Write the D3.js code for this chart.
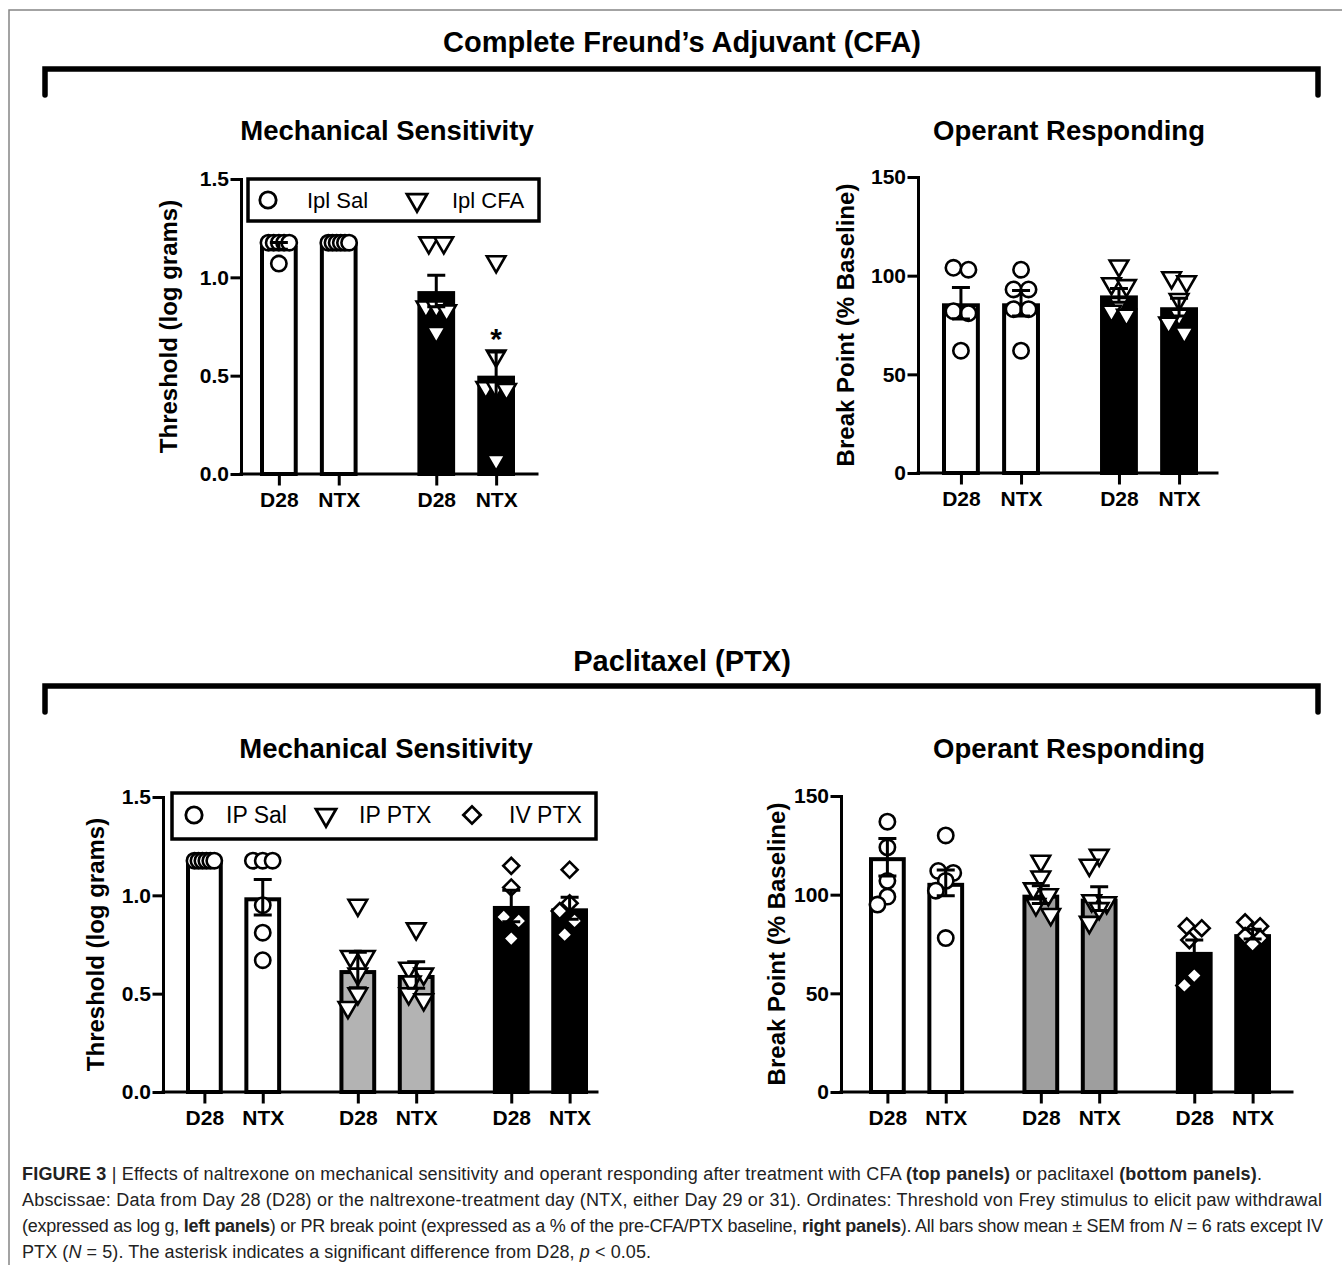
<!DOCTYPE html>
<html>
<head>
<meta charset="utf-8">
<script src="https://cdn.jsdelivr.net/npm/d3@7"></script>
<style>
  body { margin: 0; background: #fff; }
  svg { display: block; font-family: "Liberation Sans", Arial, Helvetica, sans-serif; }
</style>
</head>
<body>
<svg id="fig" width="1342" height="1265"></svg>
<script>
// ---------- data ----------
const conditions = ["D28", "NTX"];
const cfaGroups = ["Ipl Sal", "Ipl CFA"];
const ptxGroups = ["IP Sal", "IP PTX", "IV PTX"];
const thresholdTicks = [0, 0.5, 1.0, 1.5];
const breakPointTicks = [0, 50, 100, 150];

// values are [group][condition]
const cfaThresholdMean = [[1.16, 1.176], [0.93, 0.50]];
const cfaThresholdSem = [[0.017, 0], [0.08, 0.12]];
const cfaThresholdRats = [
  [[1.176, 1.176, 1.176, 1.176, 1.176, 1.07], [1.176, 1.176, 1.176, 1.176, 1.176, 1.176]],
  [[1.176, 1.176, 0.85, 0.85, 0.83, 0.72], [1.08, 0.60, 0.44, 0.44, 0.43, 0.07]]
];

const cfaBreakMean = [[86, 86], [90, 84]];
const cfaBreakSem = [[8, 6.5], [3.5, 4.5]];
const cfaBreakRats = [
  [[104, 103, 82, 81, 62], [103, 93, 93, 83, 83, 62]],
  [[105, 96, 95, 86, 82, 80], [99, 97, 88, 80, 76, 71]]
];

const ptxThresholdMean = [[1.176, 0.99], [0.62, 0.595], [0.946, 0.934]];
const ptxThresholdSem = [[0, 0.09], [0.09, 0.067], [0.08, 0.056]];
const ptxThresholdRats = [
  [[1.176, 1.176, 1.176, 1.176, 1.176, 1.176], [1.176, 1.176, 1.176, 0.95, 0.81, 0.67]],
  [[0.95, 0.69, 0.69, 0.60, 0.50, 0.43], [0.83, 0.63, 0.60, 0.56, 0.50, 0.47]],
  [[1.15, 1.04, 0.89, 0.87, 0.78], [1.13, 0.96, 0.92, 0.87, 0.80]]
];

const ptxBreakMean = [[119, 106], [100, 98], [71, 80]];
const ptxBreakSem = [[9.5, 6.5], [4.5, 6], [6, 2.5]];
const ptxBreakRats = [
  [[137, 124, 107, 99, 95], [130, 112, 111, 107, 102, 78]],
  [[117, 109, 103, 100, 95, 90], [120, 115, 97, 96, 93, 86]],
  [[84, 83, 77, 59, 54], [86, 84, 79, 78, 75]]
];

const captionLines = [
  [["b", "FIGURE 3"], ["", " | Effects of naltrexone on mechanical sensitivity and operant responding after treatment with CFA "], ["b", "(top panels)"], ["", " or paclitaxel "], ["b", "(bottom panels)"], ["", "."]],
  [["", "Abscissae: Data from Day 28 (D28) or the naltrexone-treatment day (NTX, either Day 29 or 31). Ordinates: Threshold von Frey stimulus to elicit paw withdrawal"]],
  [["", "(expressed as log g, "], ["b", "left panels"], ["", ") or PR break point (expressed as a % of the pre-CFA/PTX baseline, "], ["b", "right panels"], ["", "). All bars show mean ± SEM from "], ["i", "N"], ["", " = 6 rats except IV"]],
  [["", "PTX ("], ["i", "N"], ["", " = 5). The asterisk indicates a significant difference from D28, "], ["i", "p"], ["", " < 0.05."]]
];

// ---------- drawing ----------
const svg = d3.select("#fig");

// page border + section brackets
svg.append("path").attr("d", "M9,1265V10H1342")
  .attr("fill", "none").attr("stroke", "#858585").attr("stroke-width", 1.5);

function bracket(yTop, title, titleY) {
  svg.append("path")
    .attr("d", `M45,${yTop + 26}V${yTop}H1318V${yTop + 26}`)
    .attr("fill", "none").attr("stroke", "#000").attr("stroke-width", 5.5)
    .attr("stroke-linecap", "round").attr("stroke-linejoin", "miter");
  svg.append("text").attr("x", 682).attr("y", titleY)
    .attr("text-anchor", "middle").attr("font-size", 29).attr("font-weight", "bold")
    .text(title);
}
bracket(69, "Complete Freund\u2019s Adjuvant (CFA)", 52);
bracket(686, "Paclitaxel (PTX)", 671);

function marker(sel, shape, size) {
  if (shape === "circle") {
    sel.attr("d", d3.symbol(d3.symbolCircle, size)());
  } else if (shape === "triangle") {
    sel.attr("d", d3.symbol(d3.symbolTriangle, size)());
  } else {
    sel.attr("d", d3.symbol(d3.symbolSquare, size * 0.85)());
  }
  return sel;
}
const rotation = { circle: 0, triangle: 180, diamond: 45 };

// spread the rats of one bar sideways (ties fan out, near neighbours dodge)
function swarm(values, y, cx, L, minD) {
  const pts = values.map(v => ({ v, py: y(v) })).sort((a, b) => a.py - b.py);
  const ties = [];
  pts.forEach(pt => {
    const last = ties[ties.length - 1];
    if (last && Math.abs(pt.py - last[0].py) < 6) last.push(pt); else ties.push([pt]);
  });
  const placed = [];
  const s = L / 2;
  const cands = [0, -s, s, -2 * s, 2 * s];
  ties.forEach(grp => {
    if (grp.length > 1) {
      const step = Math.min(minD, 2 * L / (grp.length - 1));
      grp.forEach((pt, i) => { pt.dx = (i - (grp.length - 1) / 2) * step; placed.push(pt); });
    } else {
      const pt = grp[0];
      let best = 0, bestD = -1;
      for (const c of cands) {
        const d = placed.length ? d3.min(placed, q => Math.hypot(q.dx - c, q.py - pt.py)) : Infinity;
        if (d >= minD) { best = c; break; }
        if (d > bestD) { bestD = d; best = c; }
      }
      pt.dx = best;
      placed.push(pt);
    }
  });
  return placed.map(pt => ({ x: cx + pt.dx, y: pt.py }));
}

function drawPanel(p) {
  const g = svg.append("g");
  const y = d3.scaleLinear().domain([0, p.ticks[p.ticks.length - 1]]).range(p.yRange);
  const xGroup = d3.scaleBand().domain(p.groups)
    .range([p.xAxis[0] + p.pad[0], p.xAxis[1] - p.pad[1]]).paddingInner(0.38);
  const xCond = d3.scaleBand().domain(conditions).range([0, xGroup.bandwidth()]).paddingInner(0.37);
  const bw = xCond.bandwidth();

  const rows = p.groups.flatMap((grp, gi) => conditions.map((c, ci) => ({
    grp, gi, cond: c, key: grp + "|" + c,
    mean: p.mean[gi][ci], sem: p.sem[gi][ci], rats: p.rats[gi][ci],
    x0: xGroup(grp) + xCond(c),
    cx: xGroup(grp) + xCond(c) + bw / 2
  })));

  // bars
  const sw = 4;
  g.selectAll("rect.bar").data(rows).join("rect").attr("class", "bar")
    .attr("x", d => d.x0 + sw / 2)
    .attr("y", d => y(d.mean) + sw / 2)
    .attr("width", bw - sw)
    .attr("height", d => y(0) - y(d.mean) - sw / 2)
    .attr("fill", d => p.fills[d.gi])
    .attr("stroke", "#000").attr("stroke-width", sw);

  // individual rats
  const L = (bw - 17) / 2;
  rows.forEach(d => {
    const shape = p.shapes[d.gi];
    g.append("g").selectAll("path").data(swarm(d.rats, y, d.cx, L, 15)).join("path")
      .call(marker, shape, shape === "circle" ? 185 : 150)
      .attr("transform", q => `translate(${q.x},${q.y}) rotate(${rotation[shape]})`)
      .attr("fill", "#fff").attr("stroke", "#000").attr("stroke-width", 2.6);
  });

  // error bars (mean ± SEM)
  g.selectAll("path.err").data(rows.filter(d => d.sem > 0)).join("path").attr("class", "err")
    .attr("d", d => {
      const hi = y(d.mean + d.sem), lo = y(d.mean - d.sem);
      return `M${d.cx},${lo}V${hi}M${d.cx - 9},${hi}H${d.cx + 9}M${d.cx - 9},${lo}H${d.cx + 9}`;
    })
    .attr("fill", "none").attr("stroke", "#000").attr("stroke-width", 3);

  // significance star
  if (p.star) {
    const d = rows.find(r => r.key === p.star);
    g.append("text").attr("x", d.cx).attr("y", y(d.mean + d.sem) - 3)
      .attr("text-anchor", "middle").attr("font-size", 30).attr("font-weight", "bold").text("*");
  }

  // axes
  const yAxis = g.append("g").attr("transform", `translate(${p.xAxis[0]},0)`)
    .call(d3.axisLeft(y).tickValues(p.ticks).tickFormat(p.fmt).tickSize(9).tickPadding(3).tickSizeOuter(0));
  const xPos = d3.scaleOrdinal().domain(rows.map(d => d.key)).range(rows.map(d => d.cx));
  const xAxis = g.append("g").attr("transform", `translate(0,${y(0)})`)
    .call(d3.axisBottom(xPos).tickSize(10).tickPadding(8).tickFormat(k => k.split("|")[1]));
  xAxis.select(".domain").remove();
  g.append("line").attr("x1", p.xAxis[0]).attr("x2", p.xAxis[1]).attr("y1", y(0)).attr("y2", y(0))
    .attr("stroke", "#000").attr("stroke-width", 3).attr("stroke-linecap", "square");
  [yAxis, xAxis].forEach(a => {
    a.selectAll(".domain, .tick line").attr("stroke", "#000").attr("stroke-width", 3).attr("stroke-linecap", "square");
    a.selectAll("text").attr("font-size", 21).attr("font-weight", "bold").attr("fill", "#000")
      .attr("font-family", "'Liberation Sans', Arial, sans-serif");
  });

  // titles
  g.append("text").attr("x", p.titleX).attr("y", p.titleY).attr("text-anchor", "middle")
    .attr("font-size", 27.5).attr("font-weight", "bold").text(p.title);
  const yMid = (p.yRange[0] + p.yRange[1]) / 2;
  g.append("text").attr("transform", `translate(${p.yTitleX},${yMid}) rotate(-90)`)
    .attr("text-anchor", "middle").attr("dy", "0.36em")
    .attr("font-size", 24).attr("font-weight", "bold").text(p.yTitle);

  // legend
  if (p.legend) {
    const lg = p.legend;
    g.append("rect").attr("x", lg.box[0]).attr("y", lg.box[1]).attr("width", lg.box[2]).attr("height", lg.box[3])
      .attr("fill", "#fff").attr("stroke", "#000").attr("stroke-width", 3.5);
    const items = g.selectAll("g.leg").data(p.groups).join("g").attr("class", "leg");
    items.append("path")
      .each(function (d, i) { marker(d3.select(this), p.shapes[i], p.shapes[i] === "circle" ? 210 : 175); })
      .attr("transform", (d, i) => `translate(${lg.mx[i]},${lg.cy}) rotate(${rotation[p.shapes[i]]})`)
      .attr("fill", "#fff").attr("stroke", "#000").attr("stroke-width", 2.8);
    items.append("text").attr("x", (d, i) => lg.tx[i]).attr("y", lg.cy).attr("dy", "0.36em")
      .attr("font-size", lg.size).text(d => d);
  }
}

drawPanel({
  groups: cfaGroups, mean: cfaThresholdMean, sem: cfaThresholdSem, rats: cfaThresholdRats,
  ticks: thresholdTicks, fmt: d3.format(".1f"), shapes: ["circle", "triangle"], fills: ["#fff", "#000"],
  xAxis: [241, 537], pad: [19, 22], yRange: [474, 179],
  title: "Mechanical Sensitivity", titleX: 387, titleY: 140,
  yTitle: "Threshold (log grams)", yTitleX: 168, star: "Ipl CFA|NTX",
  legend: { box: [248, 179, 291, 42], cy: 200, mx: [268, 417], tx: [307, 452], size: 22 }
});
drawPanel({
  groups: cfaGroups, mean: cfaBreakMean, sem: cfaBreakSem, rats: cfaBreakRats,
  ticks: breakPointTicks, fmt: d3.format("d"), shapes: ["circle", "triangle"], fills: ["#fff", "#000"],
  xAxis: [918, 1217], pad: [24, 19], yRange: [473, 177],
  title: "Operant Responding", titleX: 1069, titleY: 140,
  yTitle: "Break Point (% Baseline)", yTitleX: 845
});
drawPanel({
  groups: ptxGroups, mean: ptxThresholdMean, sem: ptxThresholdSem, rats: ptxThresholdRats,
  ticks: thresholdTicks, fmt: d3.format(".1f"), shapes: ["circle", "triangle", "diamond"], fills: ["#fff", "#b3b3b3", "#000"],
  xAxis: [163, 597], pad: [23, 9], yRange: [1092, 797],
  title: "Mechanical Sensitivity", titleX: 386, titleY: 758,
  yTitle: "Threshold (log grams)", yTitleX: 95,
  legend: { box: [172, 793, 424, 46], cy: 815, mx: [194, 326, 472], tx: [226, 359, 509], size: 23 }
});
drawPanel({
  groups: ptxGroups, mean: ptxBreakMean, sem: ptxBreakSem, rats: ptxBreakRats,
  ticks: breakPointTicks, fmt: d3.format("d"), shapes: ["circle", "triangle", "diamond"], fills: ["#fff", "#9e9e9e", "#000"],
  xAxis: [841, 1292], pad: [28, 21], yRange: [1092, 796],
  title: "Operant Responding", titleX: 1069, titleY: 758,
  yTitle: "Break Point (% Baseline)", yTitleX: 776
});

// caption
const capWidths = [1240, 1300, 1301, 629];
captionLines.forEach((segs, i) => {
  const t = svg.append("text").attr("x", 22).attr("y", 1180 + i * 26)
    .attr("font-size", 18).attr("fill", "#222")
    .attr("textLength", capWidths[i]).attr("lengthAdjust", "spacing");
  segs.forEach(([style, str]) => {
    t.append("tspan")
      .attr("font-weight", style === "b" ? "bold" : null)
      .attr("font-style", style === "i" ? "italic" : null)
      .text(str);
  });
});
</script>
</body>
</html>
